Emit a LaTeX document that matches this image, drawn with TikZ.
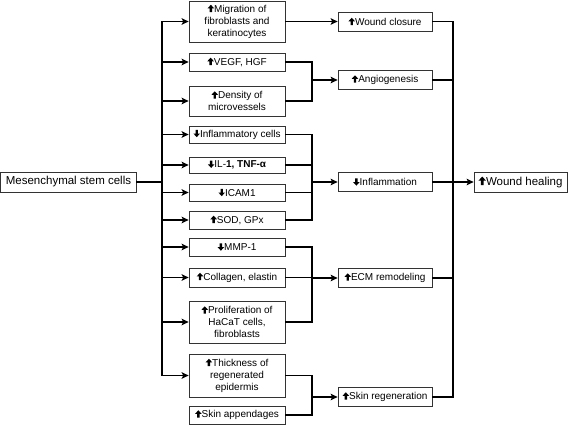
\documentclass[tikz,border=0pt]{standalone}
\usepackage{fontspec}
\setmainfont{Liberation Sans}
\usetikzlibrary{arrows.meta, positioning, calc}
\tikzset{
	box/.style={rectangle, draw=black!80, line width=0.7pt, align=center, inner sep=1pt, font=\fontsize{10}{12}\selectfont},
	midbox/.style={box, minimum width=96pt, minimum height=18pt},
	effbox/.style={box, minimum width=94pt, minimum height=19pt},
	bigbox/.style={box, minimum height=20pt, font=\fontsize{11.5}{13.5}\selectfont},
	link/.style={draw, line width=1.5pt, line cap=rect},
	arrow/.style={link, -{Stealth[length=7pt, width=6.5pt, inset=1.5pt]}}
}
\newcommand{\upar}{\tikz[baseline=0pt]\fill (-0.12em,0em) -- (0.12em,0em) -- (0.12em,0.38em) -- (0.33em,0.38em) -- (0em,0.74em) -- (-0.33em,0.38em) -- (-0.12em,0.38em) -- cycle;}
\newcommand{\dnar}{\tikz[baseline=0pt]\fill (-0.12em,0.74em) -- (0.12em,0.74em) -- (0.12em,0.36em) -- (0.33em,0.36em) -- (0em,0em) -- (-0.33em,0.36em) -- (-0.12em,0.36em) -- cycle;}
\begin{document}
\begin{tikzpicture}[x=1pt, y=-1pt]
    \useasboundingbox (0,0) rectangle (568,425);
    % Source and outcome
    \node[bigbox, minimum width=136pt] (msc) at (68.5,182) {Mesenchymal stem cells};
    \node[bigbox, minimum width=93pt] (heal) at (520.5,182) {\upar Wound healing};
    % Direct effects
    \node[midbox, minimum height=41pt] (mig) at (237,21.5) {\upar Migration of\\fibroblasts and\\keratinocytes};
    \node[midbox] (vegf) at (237,62) {\upar VEGF, HGF};
    \node[midbox, minimum height=30pt] (dens) at (237,101) {\upar Density of\\microvessels};
    \node[midbox, minimum height=17pt] (infl) at (237,134.5) {\dnar Inflammatory cells};
    \node[midbox, minimum height=16pt] (il) at (237,165) {\dnar IL-\textbf{1, TNF-α}};
    \node[midbox, minimum height=17pt] (icam) at (237,192.5) {\dnar ICAM1};
    \node[midbox] (sod) at (237,220) {\upar SOD, GPx};
    \node[midbox] (mmp) at (237,247) {\dnar MMP-1};
    \node[midbox, minimum height=19pt] (coll) at (237,277.5) {\upar Collagen, elastin};
    \node[midbox, minimum height=42pt] (prol) at (237,322) {\upar Proliferation of\\HaCaT cells,\\fibroblasts};
    \node[midbox, minimum height=43pt] (thick) at (237,375.5) {\upar Thickness of\\regenerated\\epidermis};
    \node[midbox] (skin) at (237,415) {\upar Skin appendages};
    % Combined effects
    \node[effbox] (clos) at (385,21.5) {\upar Wound closure};
    \node[effbox] (angio) at (385,80) {\upar Angiogenesis};
    \node[effbox] (inflam) at (385,182) {\dnar Inflammation};
    \node[effbox] (ecm) at (385,278) {\upar ECM remodeling};
    \node[effbox] (regen) at (385,397) {\upar Skin regeneration};
    % Junctions
    \coordinate (lb) at (162,182);
    \coordinate (mj) at (312,0);
    \coordinate (rb) at (453,0);
    % Stem cells to direct effects
    \draw[link] (msc) -- (lb);
    \draw[link] (lb |- mig) -- (lb |- thick);
    \foreach \n in {mig,vegf,dens,infl,il,icam,sod,mmp,coll,prol,thick}
        \draw[arrow] (lb |- \n) -- (\n);
    % Direct effects to combined effects
    \draw[arrow] (mig) -- (clos);
    \draw[link] (vegf) -| (mj |- dens) -- (dens);
    \draw[arrow] (mj |- angio) -- (angio);
    \foreach \n in {infl,il,icam,sod}
        \draw[link] (\n) -- (mj |- \n);
    \draw[link] (mj |- infl) -- (mj |- sod);
    \draw[arrow] (mj |- inflam) -- (inflam);
    \foreach \n in {mmp,coll,prol}
        \draw[link] (\n) -- (mj |- \n);
    \draw[link] (mj |- mmp) -- (mj |- prol);
    \draw[arrow] (mj |- ecm) -- (ecm);
    \draw[link] (thick) -| (mj |- skin) -- (skin);
    \draw[arrow] (mj |- regen) -- (regen);
    % Combined effects to wound healing
    \foreach \n in {clos,angio,inflam,ecm,regen}
        \draw[link] (\n) -- (rb |- \n);
    \draw[link] (rb |- clos) -- (rb |- regen);
    \draw[arrow] (rb |- heal) -- (heal);
\end{tikzpicture}
\end{document}
